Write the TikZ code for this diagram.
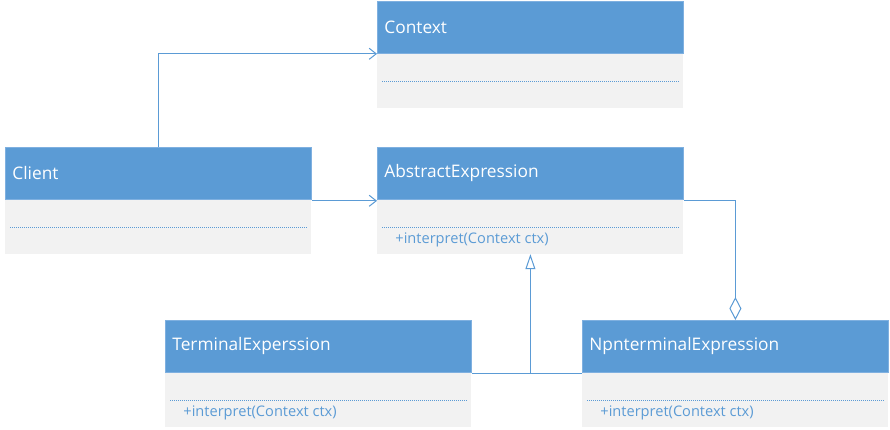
\documentclass[tikz,border=0pt]{standalone}
\usepackage{fontspec}
\setmainfont{Open Sans}
\usetikzlibrary{arrows.meta,calc}
\definecolor{hdrblue}{HTML}{5B9BD5}
\definecolor{hdredge}{HTML}{7FB0E0}
\definecolor{bodygray}{HTML}{F2F2F2}
\definecolor{linkblue}{HTML}{5B9BD5}
\definecolor{sepblue}{HTML}{5B9BD5}

\tikzset{
  hdr/.style={fill=hdrblue, draw=hdredge, line width=0.8pt, anchor=north west,
    text width=292pt, inner xsep=7pt, inner ysep=0pt, minimum height=52pt,
    align=left, text=white, font=\fontsize{17.3}{20}\selectfont},
  bodybox/.style={fill=bodygray, draw=none, anchor=north, minimum width=306pt,
    minimum height=54pt, inner sep=0pt},
  sepline/.style={draw=sepblue, line width=1pt, dash pattern=on 1pt off 1pt},
  meth/.style={anchor=west, inner sep=0pt, text=linkblue, font=\fontsize{14.6}{17}\selectfont},
  link/.style={draw=linkblue, line width=1pt},
  assoc/.style={link, -{Straight Barb[length=7pt,width=11pt]}},
  inherit/.style={link, -{Triangle[open,length=15pt,width=10pt,fill=white]}},
  aggr/.style={link, -{Diamond[open,length=23pt,width=12pt,fill=white]}},
}

\begin{document}
\begin{tikzpicture}[x=1pt,y=-1pt]
  \fill[white] (0,0) rectangle (890,429);
  \useasboundingbox (0,0) rectangle (890,429);

  % Context
  \node[hdr] (context) at (377,1) {Context};
  \node[bodybox] (contextb) at (context.south) {};
  \draw[sepline] ($(contextb.west)+(5,0.5)$) -- ($(contextb.east)+(-5,0.5)$);

  % Client
  \node[hdr] (client) at (5,147) {Client};
  \node[bodybox] (clientb) at (client.south) {};
  \draw[sepline] ($(clientb.west)+(5,0.5)$) -- ($(clientb.east)+(-5,0.5)$);

  % AbstractExpression
  \node[hdr] (abstract) at (377,147) {AbstractExpression};
  \node[bodybox] (abstractb) at (abstract.south) {};
  \draw[sepline] ($(abstractb.west)+(5,0.5)$) -- ($(abstractb.east)+(-5,0.5)$);
  \node[meth] (abstractm) at ($(abstractb.west)+(18,12.5)$) {+interpret(Context ctx)};

  % TerminalExpression
  \node[hdr] (terminal) at (165,320) {TerminalExperssion};
  \node[bodybox] (terminalb) at (terminal.south) {};
  \draw[sepline] ($(terminalb.west)+(5,0.5)$) -- ($(terminalb.east)+(-5,0.5)$);
  \node[meth] (terminalm) at ($(terminalb.west)+(18,12.5)$) {+interpret(Context ctx)};

  % NonterminalExpression
  \node[hdr] (nonterm) at (582,320) {NpnterminalExpression};
  \node[bodybox] (nontermb) at (nonterm.south) {};
  \draw[sepline] ($(nontermb.west)+(5,0.5)$) -- ($(nontermb.east)+(-5,0.5)$);
  \node[meth] (nontermm) at ($(nontermb.west)+(18,12.5)$) {+interpret(Context ctx)};

  % Connectors
  \draw[assoc] (client.north) |- (context.south west);
  \draw[assoc] ($(client.south east)+(0,1)$) -- ($(abstract.south west)+(0,1)$);
  \draw[aggr] ($(abstract.south east)+(0,1)$) -| (nonterm.north);
  \coordinate (join) at ($(terminal.south east)+(0,1)$);
  \draw[link] (join) -- ($(nonterm.south west)+(0,1)$);
  \draw[inherit] (join -| abstractb.south) -- (abstractb.south);
\end{tikzpicture}
\end{document}
